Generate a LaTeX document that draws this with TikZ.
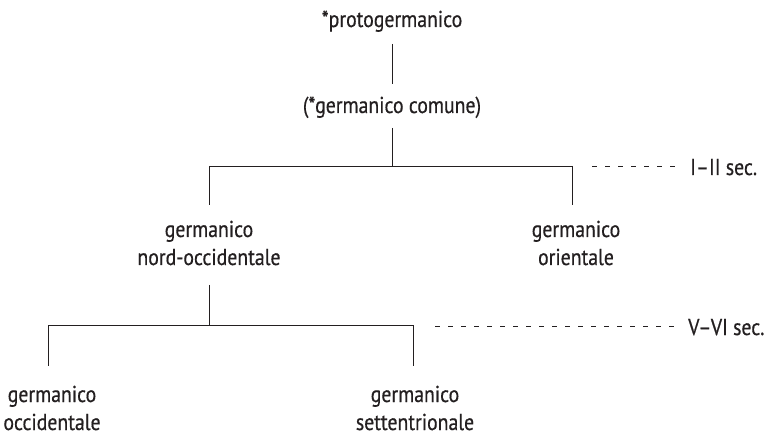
\documentclass[tikz,border=0pt]{standalone}
\usepackage{fontspec}
\setmainfont[FakeStretch=0.86,FakeBold=0.5]{PT Sans}
\usetikzlibrary{calc}
\definecolor{ink}{HTML}{231F20}
\begin{document}
\begin{tikzpicture}[x=1pt,y=-1pt,
  lbl/.style={font=\fontsize{23}{28}\selectfont, text=ink, inner xsep=0pt, inner ysep=0pt, anchor=base, align=center},
  tree/.style={draw=ink, line width=0.8pt},
  era/.style={draw=ink, line width=0.8pt, dash pattern=on 5pt off 8pt}]
\useasboundingbox (0,0) rectangle (773,435);
% nodes (multi-line nodes: base = last line)
\node[lbl] (proto)  at (392,27)  {*protogermanico};
\node[lbl] (comune) at (392,113) {(*germanico comune)};
\node[lbl] (nord)   at (209,265) {germanico\\nord-occidentale};
\node[lbl] (orient) at (576,265) {germanico\\orientale};
\node[lbl] (occ)    at (52,430)  {germanico\\occidentale};
\node[lbl] (sett)   at (415,430) {germanico\\settentrionale};
\node[lbl, anchor=base west] (sec1) at (690,175) {I–II sec.};
\node[lbl, anchor=base west] (sec2) at (688,335) {V–VI sec.};
% junction coordinates
\coordinate (j1) at (392,166);
\coordinate (c1l) at (209,166);
\coordinate (c1r) at (572,166);
\coordinate (j2) at (209,325);
\coordinate (c2l) at (48,325);
\coordinate (c2r) at (413,325);
\coordinate (d1) at (592,166.5);
\coordinate (d2) at (435,326.5);
\coordinate (d1e) at (675,166.5);
\coordinate (d2e) at (675,326.5);
% connector ends relative to nodes
\coordinate (p1) at ($(proto.base)+(0,17)$);
\coordinate (p2) at ($(comune.base)+(0,-29)$);
\coordinate (p3) at ($(comune.base)+(0,15)$);
\coordinate (n1) at ($(nord.base)+(0,-60)$);
\coordinate (n2) at ($(nord.base)+(0,20)$);
\coordinate (o1) at ($(occ.base)+(0,-64)$);
% connectors
\draw[tree] (p1) -- (p2);
\draw[tree] (p3) -- (j1);
\draw[tree] (c1l) -- (c1r);
\draw[tree] (c1l) -- (c1l |- n1);
\draw[tree] (c1r) -- (c1r |- n1);
\draw[tree] (n2) -- (j2);
\draw[tree] (c2l) -- (c2r);
\draw[tree] (c2l) -- (c2l |- o1);
\draw[tree] (c2r) -- (c2r |- o1);
\draw[era] (d1) -- (d1e);
\draw[era] (d2) -- (d2e);
\end{tikzpicture}
\end{document}
